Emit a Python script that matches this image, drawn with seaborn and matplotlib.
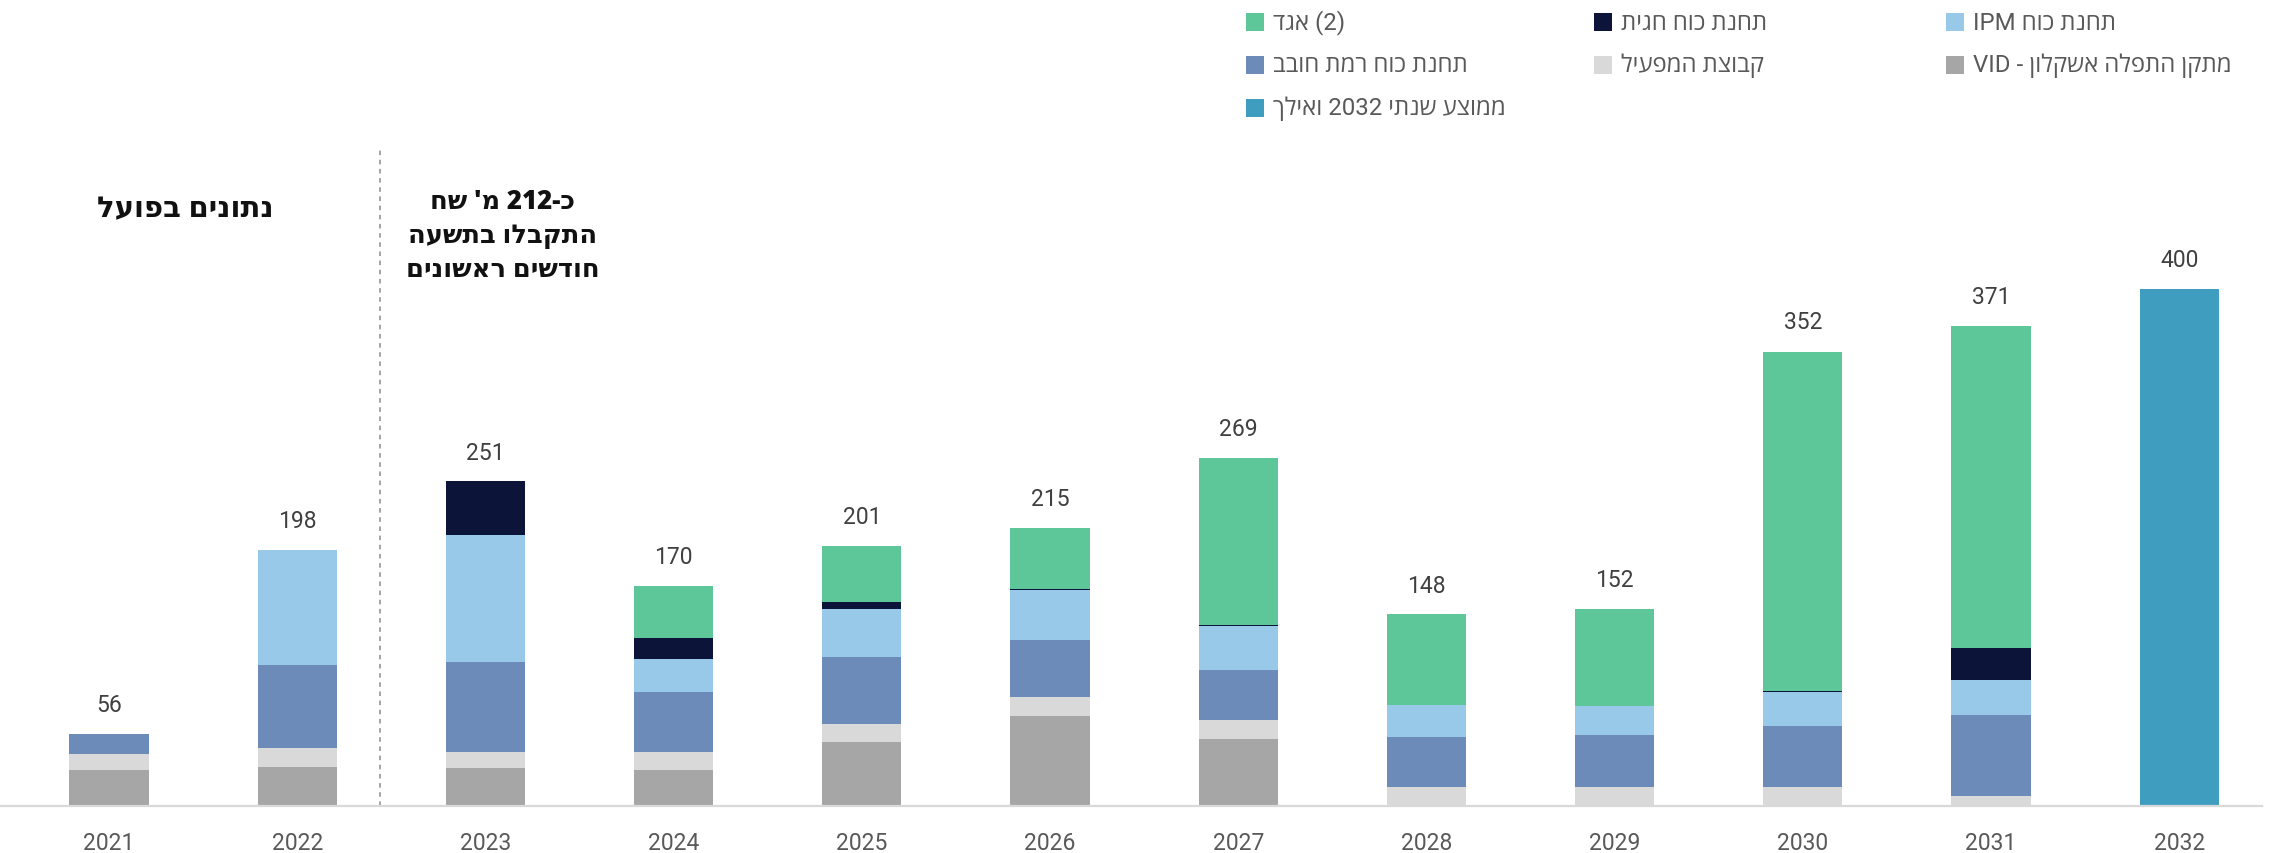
import numpy as np
import pandas as pd
import matplotlib
matplotlib.use("Agg")
import matplotlib.pyplot as plt
from matplotlib.patches import Rectangle
import seaborn as sns

# ---------------- data ----------------
years = ["2021", "2022", "2023", "2024", "2025", "2026", "2027", "2028", "2029", "2030", "2031", "2032"]
vid_ashkelon = [28, 30.5, 29.5, 28, 49.7, 70, 51.6, 0, 0, 0, 0, 0]
operator_group = [12, 14.2, 12.4, 13.4, 14, 14.5, 15, 14.9, 14.9, 14.7, 7.4, 0]
ramat_hovav = [16, 64.3, 69.4, 46.5, 51.3, 44.2, 38.7, 38.6, 40.2, 47.4, 63.2, 0]
ipm = [0, 89, 98, 25.8, 37.8, 38.8, 34.3, 24.5, 22.2, 26, 26.9, 0]
hagit = [0, 0, 41.8, 16.3, 4.7, 0.5, 0.5, 0.3, 0.3, 0.5, 24.5, 0]
egged = [0, 0, 0, 40, 43.5, 46.8, 129.3, 70, 74.7, 263, 249, 0]
avg_2032 = [0, 0, 0, 0, 0, 0, 0, 0, 0, 0, 0, 400]
totals = [56, 198, 251, 170, 201, 215, 269, 148, 152, 352, 371, 400]

# Hebrew labels written in visual (left-to-right) glyph order
lbl_egged = "דגא (2)"
lbl_hagit = "תיגח חוכ תנחת"
lbl_ipm = "IPM חוכ תנחת"
lbl_ramat = "בבוח תמר חוכ תנחת"
lbl_operator = "ליעפמה תצובק"
lbl_vid = "VID - ןולקשא הלפתה ןקתמ"
lbl_avg = "ךליאו 2032 יתנש עצוממ"
note_actual = "לעופב םינותנ"
note_lines = ["חש 'מ 212-כ", "העשתב ולבקתה", "םינושאר םישדוח"]

# ---------------- style ----------------
sns.set_theme(style="white")
plt.rcParams["font.family"] = ["Roboto", "Open Sans", "DejaVu Sans"]

C_VID = "#A6A6A6"
C_OPER = "#D9D9D9"
C_RAMAT = "#6D8BB9"
C_IPM = "#98C9E8"
C_HAGIT = "#0C1439"
C_EGGED = "#5DC79A"
C_AVG = "#3F9DBF"

layers = [
    (vid_ashkelon, C_VID),
    (operator_group, C_OPER),
    (ramat_hovav, C_RAMAT),
    (ipm, C_IPM),
    (hagit, C_HAGIT),
    (egged, C_EGGED),
    (avg_2032, C_AVG),
]

W, H = 2285, 854
BASE = 807          # baseline pixel row (from top)
PPV = 1.2925        # pixels per unit
fig = plt.figure(figsize=(W / 100, H / 100), dpi=100)
ax = fig.add_axes([0, (H - BASE) / H, 2262 / W, BASE / H])

# cumulative stacks drawn top-down so lower layers overlay the upper ones
cum = np.zeros(len(years))
cums = []
for vals, col in layers:
    cum = cum + np.array(vals, dtype=float)
    cums.append((cum.copy(), np.array(vals, dtype=float), col))

for cvals, vals, col in reversed(cums):
    heights = np.where(vals > 0, cvals, np.nan)
    df = pd.DataFrame({"year": years, "value": heights})
    sns.barplot(data=df, x="year", y="value", order=years, color=col,
                width=0.42, errorbar=None, linewidth=0, saturation=1, ax=ax)

# totals above bars
for i, t in enumerate(totals):
    ax.annotate(f"{t}", xy=(i, t), xytext=(0, 13), textcoords="offset points",
                ha="center", va="bottom", fontsize=16.5, color="#404040",
                family=["Roboto", "DejaVu Sans"])

ax.set_xlim(-109 / 188.2, (2262 - 109) / 188.2)
ax.set_ylim(0, BASE / PPV)
ax.set_xlabel("")
ax.set_ylabel("")
ax.set_yticks([])
ax.tick_params(axis="x", length=0, pad=18, labelsize=16.5, labelcolor="#595959")
for lab in ax.get_xticklabels():
    lab.set_family(["Roboto", "DejaVu Sans"])
for s in ["top", "right", "left"]:
    ax.spines[s].set_visible(False)
ax.spines["bottom"].set_color("#D9D9D9")
ax.spines["bottom"].set_linewidth(1.6)

# dashed separator between actual and forecast
ax.axvline(1.44, ymin=0, ymax=(BASE - 148) / BASE, color="#8C8C8C",
           linestyle=(0, (3, 3)), linewidth=1.1)

# annotations
ax.text(0.404, (BASE - 210) / PPV, note_actual, ha="center", va="center",
        fontsize=21, fontweight="heavy", color="#111111",
        family=["Open Sans", "DejaVu Sans"])
for k, line in enumerate(note_lines):
    ax.text(2.09, (BASE - (202 + 34 * k)) / PPV, line, ha="center", va="center",
            fontsize=18.5, fontweight="heavy", color="#111111",
            family=["Open Sans", "DejaVu Sans"])

# legend (manual, 3 columns)
legend_items = [
    (lbl_egged, C_EGGED, 0, 0),
    (lbl_hagit, C_HAGIT, 1, 0),
    (lbl_ipm, C_IPM, 2, 0),
    (lbl_ramat, C_RAMAT, 0, 1),
    (lbl_operator, C_OPER, 1, 1),
    (lbl_vid, C_VID, 2, 1),
    (lbl_avg, C_AVG, 0, 2),
]
col_x = [1246, 1594, 1946]
row_y = [23, 66, 109]
sq = 18
for text, col, c, r in legend_items:
    x0 = col_x[c]
    yc = row_y[r]
    fig.add_artist(Rectangle((x0 / W, 1 - (yc + sq / 2) / H), sq / W, sq / H,
                             transform=fig.transFigure, facecolor=col,
                             edgecolor="none"))
    fig.text((x0 + sq + 9) / W, 1 - yc / H, text, ha="left", va="center",
             fontsize=17.3, color="#595959",
             family=["Roboto", "Open Sans", "DejaVu Sans"])

fig.savefig("out.png", dpi=100, facecolor="white")
